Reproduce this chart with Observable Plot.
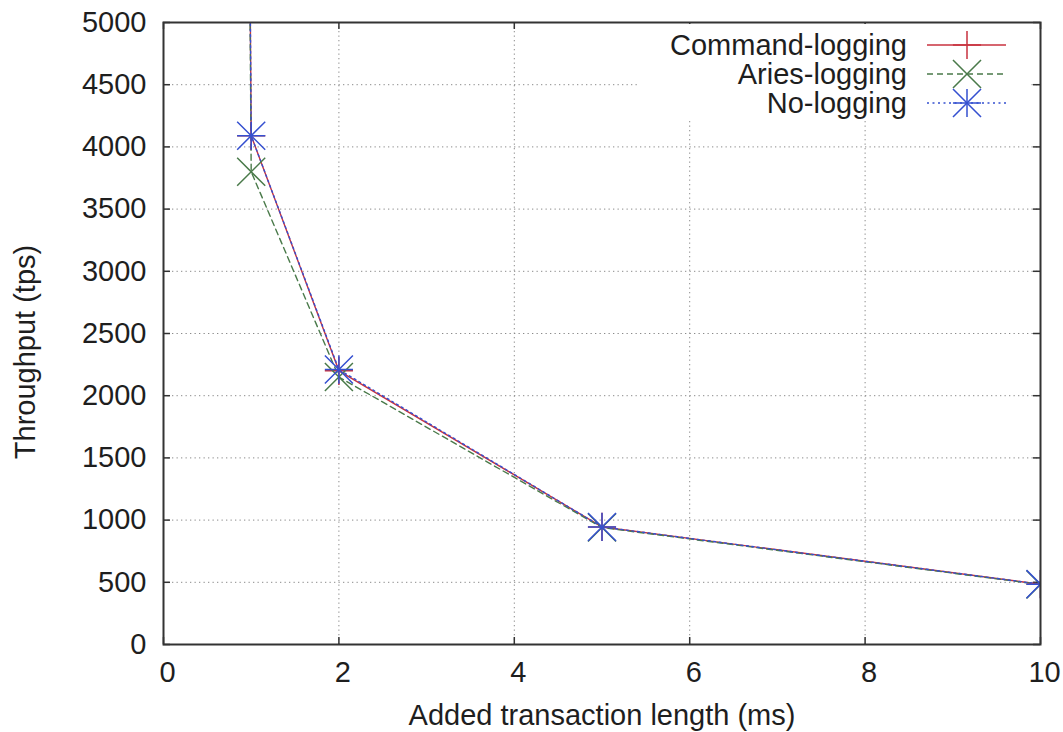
<!DOCTYPE html>
<html>
<head>
<meta charset="utf-8">
<script src="https://cdn.jsdelivr.net/npm/d3@7"></script>
<script src="https://cdn.jsdelivr.net/npm/@observablehq/plot@0.6"></script>
<style>
  html, body { margin: 0; padding: 0; background: #fff; }
  #chart { width: 1063px; height: 732px; }
</style>
</head>
<body>
<div id="chart"></div>
<script>
// Added transaction length (ms) and measured throughput (tps) per logging scheme.
// At 0 ms the throughput is far above the 5000 tps axis limit.
const txLength = [0, 1, 2, 5, 10];
const commandLogging = [100000, 4090, 2200, 945, 485];
const ariesLogging = [100000, 3800, 2150, 940, 482];
const noLogging = [100000, 4090, 2210, 945, 485];

const seriesNames = ["Command-logging", "Aries-logging", "No-logging"];
const seriesColors = ["#c8323f", "#4a7a4a", "#3550d0"];
const seriesDash = [null, "6,4", "2,3.5"];

const xTicks = [0, 2, 4, 6, 8, 10];
const yTicks = [0, 500, 1000, 1500, 2000, 2500, 3000, 3500, 4000, 4500, 5000];

const xTitle = "Added transaction length (ms)";
const yTitle = "Throughput (tps)";

const seriesValues = [commandLogging, ariesLogging, noLogging];
const rows = seriesNames.map((name, i) =>
  txLength.map((x, j) => ({series: name, x, y: seriesValues[i][j]}))
);

const W = 1063, H = 732;
const margin = {left: 163, right: 23, top: 22, bottom: 88};
const frameW = W - margin.left - margin.right;
const frameH = H - margin.top - margin.bottom;
const tickLen = 7;

const font = "'Liberation Sans', Arial, Helvetica, sans-serif";
const fontSize = 29;
const textColor = "#1e1e1e";
const markerStroke = 1.5;

// Symbol sizes chosen so each marker's arms reach ~14px from centre.
const plusR = 9.1, timesR = 12.8;

const lineMarks = rows.map((data, i) =>
  Plot.line(data, {
    x: "x", y: "y",
    stroke: seriesColors[i],
    strokeWidth: 1.4,
    strokeDasharray: seriesDash[i],
    clip: true
  })
);

const dotMarks = [
  Plot.dot(rows[0], {x: "x", y: "y", symbol: "plus", r: plusR, stroke: seriesColors[0], strokeWidth: markerStroke, fill: "none", clip: true}),
  Plot.dot(rows[1], {x: "x", y: "y", symbol: "times", r: timesR, stroke: seriesColors[1], strokeWidth: markerStroke, fill: "none", clip: true}),
  // star = plus + times
  Plot.dot(rows[2], {x: "x", y: "y", symbol: "plus", r: plusR, stroke: seriesColors[2], strokeWidth: markerStroke, fill: "none", clip: true}),
  Plot.dot(rows[2], {x: "x", y: "y", symbol: "times", r: timesR, stroke: seriesColors[2], strokeWidth: markerStroke, fill: "none", clip: true})
];

const gridStyle = {stroke: "#8a8a8a", strokeOpacity: 1, strokeWidth: 1, strokeDasharray: "1.3,3.2"};
const tickMarkStyle = {stroke: "#333", strokeWidth: 1.5};

const plot = Plot.plot({
  width: W,
  height: H,
  marginLeft: margin.left,
  marginRight: margin.right,
  marginTop: margin.top,
  marginBottom: margin.bottom,
  style: {fontFamily: font, fontSize: `${fontSize}px`, color: textColor, background: "#fff", overflow: "visible"},
  x: {domain: [0, 10]},
  y: {domain: [0, 5000]},
  marks: [
    Plot.gridX(xTicks, gridStyle),
    Plot.gridY(yTicks, gridStyle),
    // short inward tick marks on all four sides of the frame
    Plot.tickX(xTicks, {x: d => d, insetTop: frameH - tickLen, ...tickMarkStyle}),
    Plot.tickX(xTicks, {x: d => d, insetBottom: frameH - tickLen, ...tickMarkStyle}),
    Plot.tickY(yTicks, {y: d => d, insetRight: frameW - tickLen, ...tickMarkStyle}),
    Plot.tickY(yTicks, {y: d => d, insetLeft: frameW - tickLen, ...tickMarkStyle}),
    // tick labels
    Plot.axisX(xTicks, {anchor: "bottom", tickSize: 0, tickPadding: 17, dx: 4, label: null, fontSize, tickFormat: d => String(d)}),
    Plot.axisY(yTicks, {anchor: "left", tickSize: 0, tickPadding: 17, label: null, fontSize, tickFormat: d => String(d)}),
    ...lineMarks,
    ...dotMarks,
    Plot.frame({stroke: "#333", strokeWidth: 2})
  ]
});

document.getElementById("chart").appendChild(plot);

const svg = d3.select(plot);

// Axis titles
svg.append("text")
  .attr("x", 602).attr("y", 725)
  .attr("text-anchor", "middle")
  .attr("font-family", font).attr("font-size", fontSize).attr("fill", textColor)
  .text(xTitle);

svg.append("text")
  .attr("transform", "translate(35,352) rotate(-90)")
  .attr("text-anchor", "middle")
  .attr("font-family", font).attr("font-size", fontSize).attr("fill", textColor)
  .text(yTitle);

// Key in the top-right corner of the plot area
const key = svg.append("g");
key.append("rect")
  .attr("x", 640).attr("y", 24).attr("width", 390).attr("height", 94)
  .attr("fill", "#fff");

const symbolPath = (type, r) => d3.symbol(type, Math.PI * r * r)();
seriesNames.forEach((name, i) => {
  const cy = 45 + i * 29;
  key.append("text")
    .attr("x", 907).attr("y", cy + 10)
    .attr("text-anchor", "end")
    .attr("font-family", font).attr("font-size", fontSize).attr("fill", textColor)
    .text(name);
  key.append("line")
    .attr("x1", 927).attr("x2", 1006).attr("y1", cy).attr("y2", cy)
    .attr("stroke", seriesColors[i]).attr("stroke-width", 1.4)
    .attr("stroke-dasharray", seriesDash[i]);
  const types = i === 0 ? [[d3.symbolPlus, plusR]] : i === 1 ? [[d3.symbolTimes, timesR]] : [[d3.symbolPlus, plusR], [d3.symbolTimes, timesR]];
  types.forEach(([t, r]) => {
    key.append("path")
      .attr("d", symbolPath(t, r))
      .attr("transform", `translate(967,${cy})`)
      .attr("fill", "none").attr("stroke", seriesColors[i]).attr("stroke-width", markerStroke);
  });
});
</script>
</body>
</html>
